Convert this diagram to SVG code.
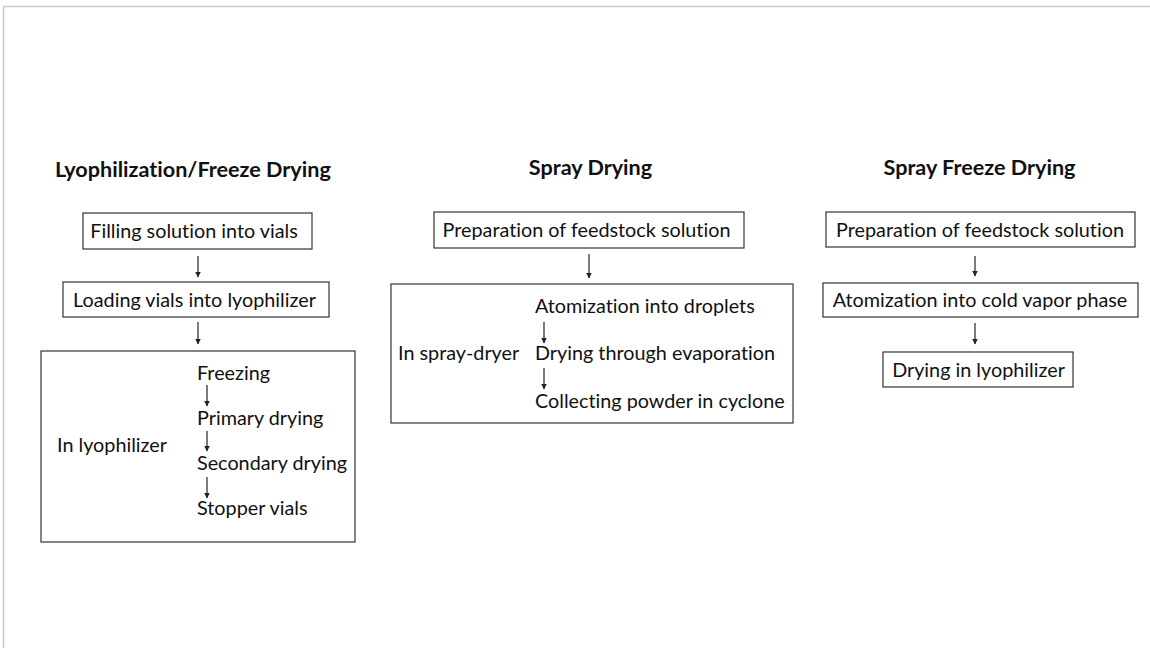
<svg xmlns="http://www.w3.org/2000/svg" width="1150" height="648" viewBox="0 0 1150 648">
<style>
text{font-family:Lato,"Open Sans","Liberation Sans",sans-serif;fill:#111;font-size:19.8px;font-variant-ligatures:none}
.t{font-weight:bold;font-size:21.6px}
.box{fill:#fff;stroke:#333;stroke-width:1.2}
.ar{stroke:#222;stroke-width:1.2;fill:none;marker-end:url(#ah)}
.frame{stroke:#c8c8c8;stroke-width:1.5;fill:none}
</style>
<defs>
<marker id="ah" viewBox="0 0 6 8" refX="5.5" refY="4" markerWidth="6" markerHeight="8" markerUnits="userSpaceOnUse" orient="auto">
<path d="M0,1 L6,4 L0,7 Z" fill="#222"/>
</marker>
</defs>
<rect width="1150" height="648" fill="#fff"/>
<path class="frame" d="M3.5,648 V6.5 H1150"/>

<g id="col-lyo">
<text id="title-lyo" class="t" x="55" y="177">Lyophilization/Freeze Drying</text>
<g id="n-filling"><rect class="box" x="83" y="213" width="229" height="36"/><text x="194" y="238" text-anchor="middle">Filling solution into vials</text></g>
<g id="n-loading"><rect class="box" x="63" y="282" width="266" height="35"/><text x="194.5" y="307" text-anchor="middle">Loading vials into lyophilizer</text></g>
<g id="n-inlyo">
<rect class="box" x="41" y="351" width="314" height="191"/>
<text x="57" y="452">In lyophilizer</text>
<text x="197" y="380">Freezing</text>
<text x="197" y="425">Primary drying</text>
<text x="197" y="470">Secondary drying</text>
<text x="197" y="515">Stopper vials</text>
</g>
</g>

<g id="col-spray">
<text id="title-spray" class="t" x="590.5" y="175" text-anchor="middle">Spray Drying</text>
<g id="n-prep1"><rect class="box" x="434" y="212" width="310" height="36"/><text x="586.5" y="237" text-anchor="middle">Preparation of feedstock solution</text></g>
<g id="n-inspray">
<rect class="box" x="391" y="284" width="402" height="139"/>
<text x="398" y="360">In spray-dryer</text>
<text x="535" y="313">Atomization into droplets</text>
<text x="535" y="360">Drying through evaporation</text>
<text x="535" y="408">Collecting powder in cyclone</text>
</g>
</g>

<g id="col-sfd">
<text id="title-sfd" class="t" x="979.5" y="175" text-anchor="middle">Spray Freeze Drying</text>
<g id="n-prep2"><rect class="box" x="826" y="212" width="309" height="35"/><text x="980" y="237" text-anchor="middle">Preparation of feedstock solution</text></g>
<g id="n-atom"><rect class="box" x="823" y="283" width="315" height="34"/><text x="980" y="307" text-anchor="middle">Atomization into cold vapor phase</text></g>
<g id="n-dry"><rect class="box" x="883" y="352" width="190" height="35"/><text x="978.5" y="377" text-anchor="middle">Drying in lyophilizer</text></g>
</g>

<g id="connectors">
<line class="ar" x1="198" y1="256" x2="198" y2="277"/>
<line class="ar" x1="198" y1="322" x2="198" y2="344"/>
<line class="ar" x1="207" y1="385" x2="207" y2="406"/>
<line class="ar" x1="207" y1="431" x2="207" y2="451"/>
<line class="ar" x1="207" y1="477" x2="207" y2="498"/>
<line class="ar" x1="589" y1="254" x2="589" y2="278"/>
<line class="ar" x1="544" y1="322" x2="544" y2="343"/>
<line class="ar" x1="544" y1="368" x2="544" y2="389"/>
<line class="ar" x1="975" y1="256" x2="975" y2="276"/>
<line class="ar" x1="975" y1="323" x2="975" y2="344"/>
</g>
</svg>
